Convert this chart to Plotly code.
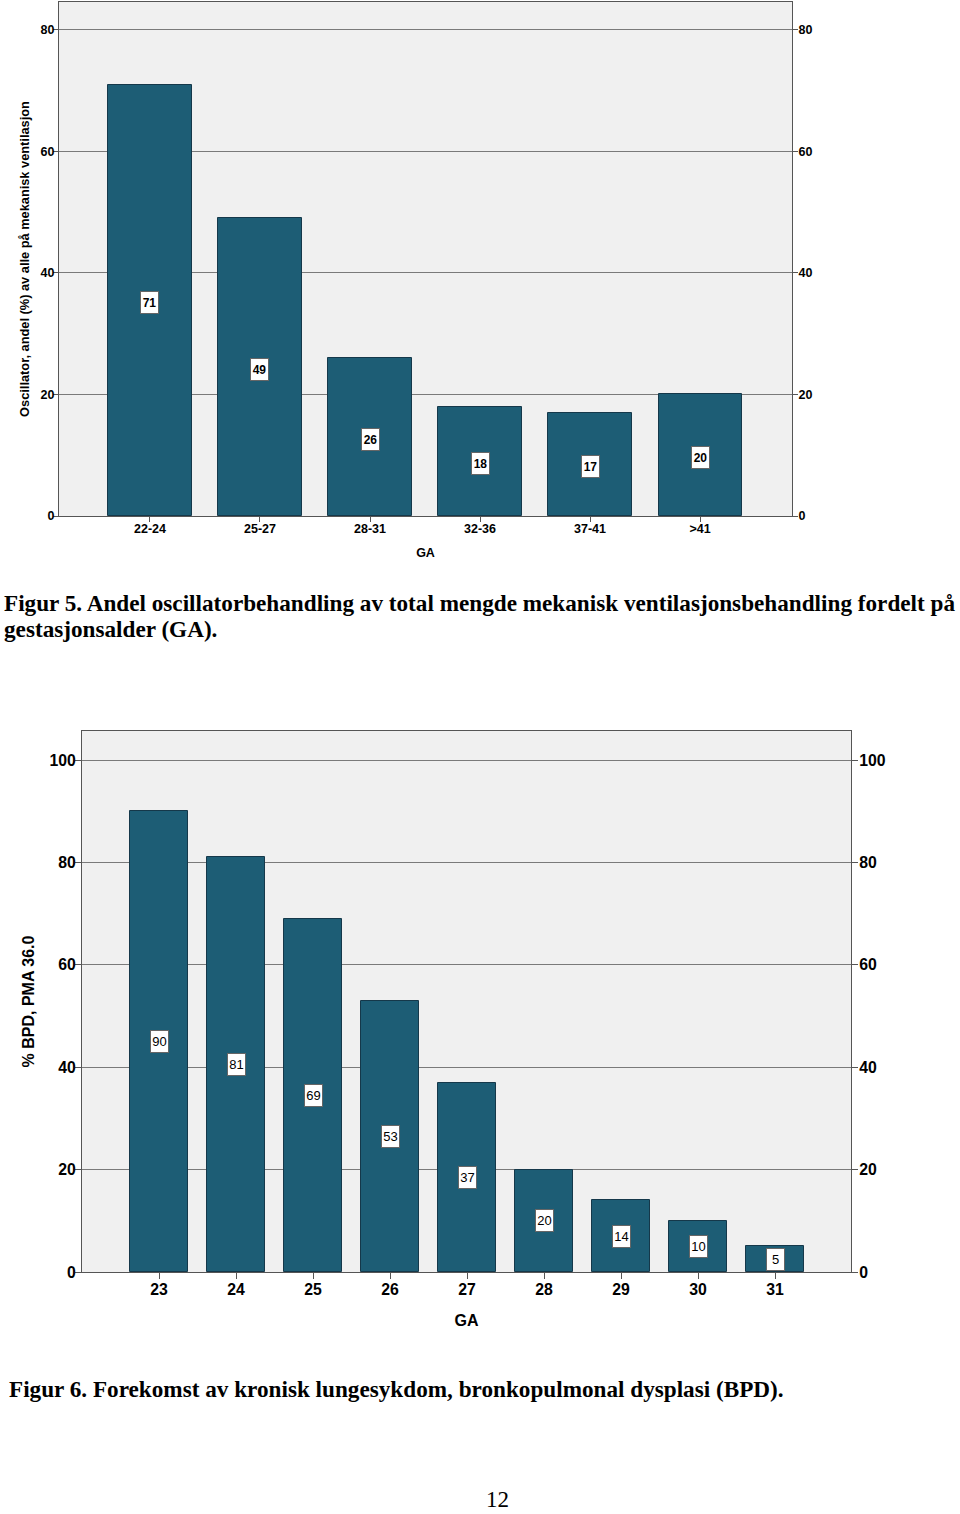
import plotly.graph_objects as go

# ---- data ----
ga_groups = ["22-24", "25-27", "28-31", "32-36", "37-41", ">41"]
osc_pct = [71, 49, 26, 18, 17, 20]
y1_ticks = [0, 20, 40, 60, 80]

ga_weeks = ["23", "24", "25", "26", "27", "28", "29", "30", "31"]
bpd_pct = [90, 81, 69, 53, 37, 20, 14, 10, 5]
y2_ticks = [0, 20, 40, 60, 80, 100]

caption5_l1 = "Figur 5. Andel oscillatorbehandling av total mengde mekanisk ventilasjonsbehandling fordelt på"
caption5_l2 = "gestasjonsalder (GA)."
caption6 = "Figur 6. Forekomst av kronisk lungesykdom, bronkopulmonal dysplasi (BPD)."
page_no = "12"
ytitle1 = "Oscillator, andel (%) av alle på mekanisk ventilasjon"
ytitle2 = "% BPD, PMA 36.0"
xtitle = "GA"

W, H = 960, 1514
BAR = "#1d5d75"
EDGE = "#15384a"
GRID = "#7a7a7a"
FRAME = "#555555"
SANS = "Liberation Sans"
SERIF = "Liberation Serif"

def px_x(a, b):
    return [a / W, b / W]

def px_y(top, bottom):
    return [1 - bottom / H, 1 - top / H]

idx1 = list(range(len(ga_groups)))
idx2 = list(range(len(ga_weeks)))

fig = go.Figure()
fig.add_trace(go.Bar(x=idx1, y=osc_pct, width=0.755,
                     marker=dict(color=BAR, line=dict(color=EDGE, width=1)),
                     xaxis="x", yaxis="y", hoverinfo="skip"))
fig.add_trace(go.Scatter(x=idx1, y=osc_pct, mode="markers", marker=dict(opacity=0),
                         xaxis="x", yaxis="y2", hoverinfo="skip"))
fig.add_trace(go.Bar(x=idx2, y=bpd_pct, width=0.753,
                     marker=dict(color=BAR, line=dict(color=EDGE, width=1)),
                     xaxis="x2", yaxis="y3", hoverinfo="skip"))
fig.add_trace(go.Scatter(x=idx2, y=bpd_pct, mode="markers", marker=dict(opacity=0),
                         xaxis="x2", yaxis="y4", hoverinfo="skip"))

ann = []
for i, v in enumerate(osc_pct):
    ann.append(dict(x=i, y=v / 2, xref="x", yref="y", text=str(v), showarrow=False,
                    font=dict(family=SANS, size=12, color="black", weight="bold"),
                    bgcolor="white", bordercolor="#666666", borderwidth=1, borderpad=1,
                    width=15, height=19, yshift=-2))
for i, v in enumerate(bpd_pct):
    ann.append(dict(x=i, y=v / 2, xref="x2", yref="y3", text=str(v), showarrow=False,
                    font=dict(family=SANS, size=13, color="black"),
                    bgcolor="white", bordercolor="#666666", borderwidth=1, borderpad=1,
                    width=15, height=19))

ann.append(dict(x=2 / W, y=1 - 603 / H, xref="paper", yref="paper", xanchor="left", yanchor="middle",
                align="left", showarrow=False, text=caption5_l1,
                font=dict(family=SERIF, size=23.2, color="black", weight="bold")))
ann.append(dict(x=2 / W, y=1 - 629 / H, xref="paper", yref="paper", xanchor="left", yanchor="middle",
                align="left", showarrow=False, text=caption5_l2,
                font=dict(family=SERIF, size=23.2, color="black", weight="bold")))
ann.append(dict(x=7 / W, y=1 - 1389 / H, xref="paper", yref="paper", xanchor="left", yanchor="middle",
                align="left", showarrow=False, text=caption6,
                font=dict(family=SERIF, size=23.2, color="black", weight="bold")))
ann.append(dict(x=497 / W, y=0, xref="paper", yref="paper", yanchor="bottom", showarrow=False,
                text=page_no, yshift=0,
                font=dict(family=SERIF, size=23, color="black")))

r1 = [0, 84.6]
r2 = [0, 105.7]
tf1 = dict(family=SANS, size=12.5, color="black", weight="bold")
tf2 = dict(family=SANS, size=15.8, color="black", weight="bold")

fig.update_layout(
    template="none",
    width=W, height=H, margin=dict(l=0, r=0, t=0, b=0),
    paper_bgcolor="white", plot_bgcolor="#f0f0f0", showlegend=False,
    bargap=0,
    xaxis=dict(domain=px_x(59, 792), range=[-0.827, 5.836], tickmode="array",
               tickvals=idx1, ticktext=ga_groups,
               ticks="outside", ticklen=5, tickcolor=FRAME, tickfont=tf1, ticklabelstandoff=-4,
               title=dict(text=xtitle, font=dict(family=SANS, size=12.5, color="black", weight="bold"),
                          standoff=13),
               showgrid=False, showline=True, linecolor=FRAME, linewidth=1, mirror=True,
               zeroline=False, anchor="y", automargin=False),
    yaxis=dict(domain=px_y(2, 516), range=r1, tickvals=y1_ticks, ticks="outside", ticklen=5,
               tickcolor=FRAME, tickfont=tf1, showgrid=True, gridcolor=GRID, gridwidth=1,
               ticklabelstandoff=-4,
               title=dict(text=ytitle1, font=dict(family=SANS, size=12.8, color="black", weight="bold"),
                          standoff=8),
               zeroline=False, showline=True, linecolor=FRAME, linewidth=1, anchor="x", automargin=False),
    yaxis2=dict(domain=px_y(2, 516), range=r1, tickvals=y1_ticks, ticks="outside", ticklen=5,
                tickcolor=FRAME, tickfont=tf1, showgrid=False, zeroline=False, overlaying="y",
                ticklabelstandoff=-2,
                side="right", anchor="x", showline=True, linecolor=FRAME, linewidth=1, automargin=False),
    xaxis2=dict(domain=px_x(82, 851), range=[-1.0, 8.987], tickmode="array",
                tickvals=idx2, ticktext=ga_weeks,
                ticks="outside", ticklen=6, tickcolor=FRAME, tickfont=tf2, ticklabelstandoff=-3,
                title=dict(text=xtitle, font=dict(family=SANS, size=16, color="black", weight="bold"),
                           standoff=17),
                showgrid=False, showline=True, linecolor=FRAME, linewidth=1, mirror=True,
                zeroline=False, anchor="y3", automargin=False),
    yaxis3=dict(domain=px_y(731, 1272), range=r2, tickvals=y2_ticks, ticks="outside", ticklen=6,
                tickcolor=FRAME, tickfont=tf2, showgrid=True, gridcolor=GRID, gridwidth=1,
                ticklabelstandoff=-4,
                title=dict(text=ytitle2, font=dict(family=SANS, size=16, color="black", weight="bold"),
                           standoff=10),
                zeroline=False, showline=True, linecolor=FRAME, linewidth=1, anchor="x2", automargin=False),
    yaxis4=dict(domain=px_y(731, 1272), range=r2, tickvals=y2_ticks, ticks="outside", ticklen=6,
                tickcolor=FRAME, tickfont=tf2, showgrid=False, zeroline=False, overlaying="y3",
                ticklabelstandoff=-2,
                side="right", anchor="x2", showline=True, linecolor=FRAME, linewidth=1, automargin=False),
    annotations=ann,
)

fig.write_html("out.html", config={"displayModeBar": False},
               post_script="document.body.style.margin='0';")
